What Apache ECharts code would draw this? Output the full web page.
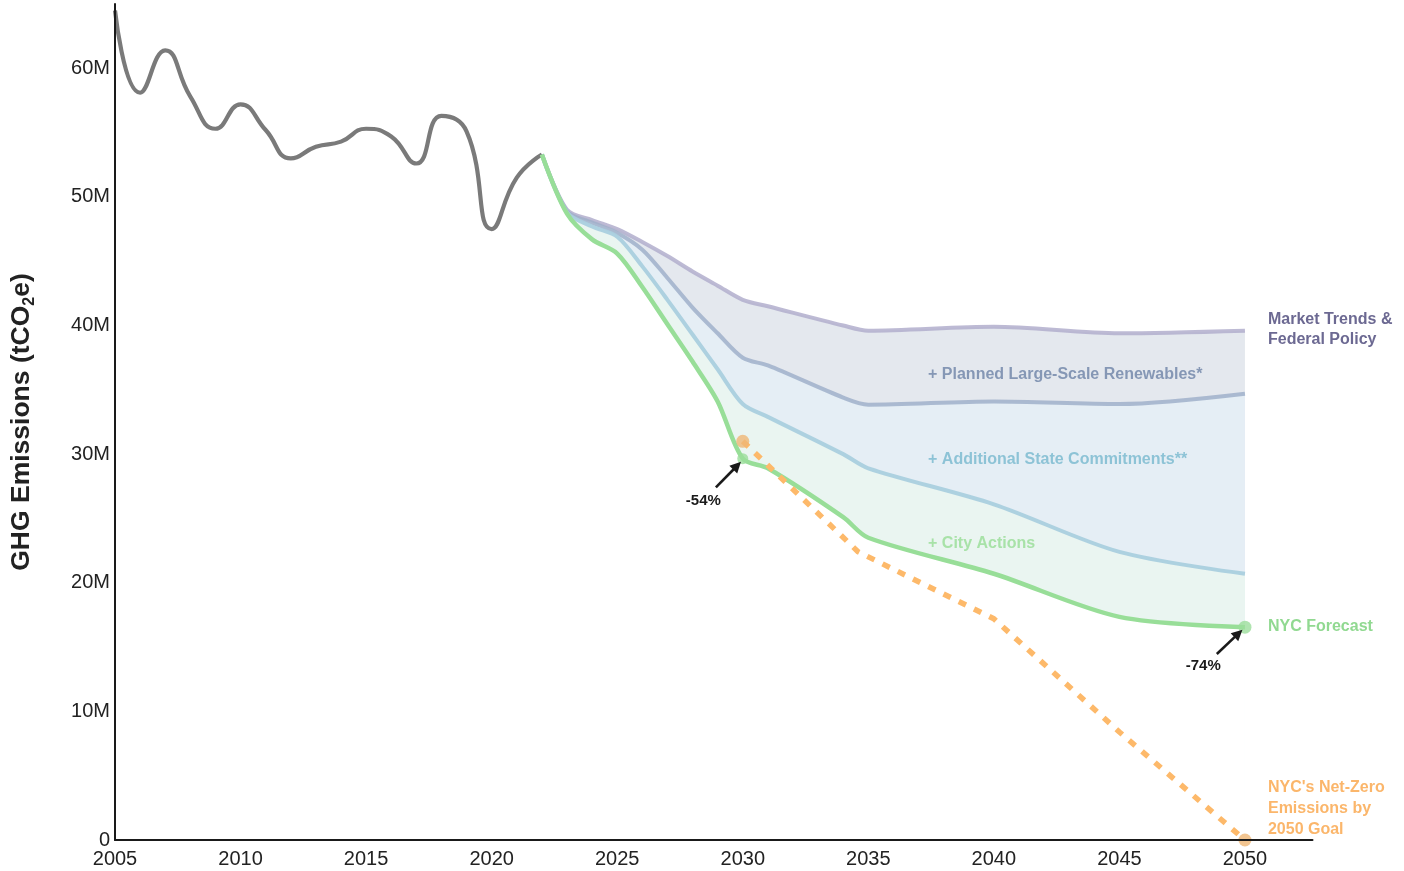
<!DOCTYPE html>
<html>
<head>
<meta charset="utf-8">
<title>NYC GHG Emissions Forecast</title>
<script src="https://cdn.jsdelivr.net/npm/echarts@6/dist/echarts.min.js"></script>
<style>
  html, body { margin: 0; padding: 0; background: #ffffff; }
  #chart { width: 1404px; height: 871px; }
</style>
</head>
<body>
<div id="chart"></div>
<script>
// Historical citywide emissions (million tCO2e)
const histYears  = [2005, 2006, 2007, 2008, 2009, 2010, 2011, 2012, 2013, 2014, 2015, 2016, 2017, 2018, 2019, 2020, 2021, 2022];
const histValues = [64.5, 58.1, 61.4, 57.8, 55.3, 57.2, 55.2, 53.0, 53.9, 54.3, 55.3, 54.7, 52.6, 56.3, 55.1, 47.5, 51.5, 53.3];

// Forecast scenarios (million tCO2e)
const projYears      = [2022, 2023, 2024, 2025, 2026, 2027, 2028, 2029, 2030, 2031, 2034, 2035, 2040, 2045, 2050];
const marketTrends   = [53.3, 49.0, 48.2, 47.5, 46.5, 45.4, 44.2, 43.1, 42.0, 41.5, 40.0, 39.6, 39.9, 39.4, 39.6];
const plusRenewables = [53.3, 48.9, 48.0, 47.2, 45.9, 43.7, 41.4, 39.4, 37.5, 36.9, 34.4, 33.85, 34.1, 33.9, 34.7];
const plusState      = [53.3, 48.8, 47.7, 46.9, 44.6, 42.0, 39.3, 36.6, 33.9, 32.9, 30.0, 28.9, 26.1, 22.4, 20.7];
const nycForecast    = [53.3, 48.7, 46.7, 45.6, 43.0, 40.1, 37.2, 34.1, 29.65, 28.9, 25.1, 23.5, 20.7, 17.35, 16.55];

// Net-zero pathway (million tCO2e)
const goalYears  = [2030, 2034.6, 2040, 2045, 2050];
const goalValues = [31.0, 22.4, 17.2, 8.4, 0];

// Axis ranges and ticks
const xMin = 2005, xMax = 2052.69, xStep = 5;
const yMin = 0, yMax = 65, yStep = 10;

const FONT = "'Liberation Sans', Arial, Helvetica, sans-serif";

const pairs = (xs, ys) => xs.map((x, i) => [x, ys[i]]);
const pick = (xs, ys, wanted) => wanted.map(w => [w, ys[xs.indexOf(w)]]);

const SMOOTH = 0.3;

const chart = echarts.init(document.getElementById('chart'), null, { renderer: 'canvas' });

// Filled layers: each scenario fills down to the axis, painted top scenario first,
// so every band shows only between two neighbouring lines.
function band(name, values, color, lead) {
  const data = pairs(projYears, values);
  // the white cover starts a hair earlier so the coloured layers' left edges stay hidden
  if (lead) data.unshift([projYears[0] - lead, values[0]]);
  return {
    name: name, type: 'line', smooth: SMOOTH, symbol: 'none', silent: true,
    data: data,
    lineStyle: { width: 0, opacity: 0 },
    areaStyle: { color: color, opacity: 1 },
    z: 1
  };
}
function scenarioLine(name, values, color, width, z) {
  return {
    name: name, type: 'line', smooth: SMOOTH, symbol: 'none',
    data: pairs(projYears, values),
    lineStyle: { color: color, width: width }, z: z
  };
}

chart.setOption({
  animation: false,
  backgroundColor: '#ffffff',
  textStyle: { fontFamily: FONT },
  grid: { left: 115, right: 91.5, top: 4, bottom: 31, containLabel: false },
  xAxis: {
    type: 'value', min: xMin, max: xMax, interval: xStep, z: 20,
    axisLine: { show: true, lineStyle: { color: '#1a1a1a', width: 2 } },
    axisTick: { show: false },
    splitLine: { show: false },
    axisLabel: {
      showMaxLabel: false, margin: 9,
      color: '#222222', fontSize: 20, fontFamily: FONT,
      formatter: v => (v % 5 === 0 ? String(v) : '')
    }
  },
  yAxis: {
    type: 'value', min: yMin, max: yMax, interval: yStep, z: 20,
    axisLine: { show: true, lineStyle: { color: '#1a1a1a', width: 2 } },
    axisTick: { show: false },
    splitLine: { show: false },
    axisLabel: {
      showMaxLabel: false, margin: 5,
      color: '#222222', fontSize: 20, fontFamily: FONT,
      formatter: v => (v === 0 ? '0' : (v % 10 === 0 ? v + 'M' : ''))
    },
    name: '{a|GHG Emissions (tCO}{s|2}{a|e)}',
    nameLocation: 'middle',
    nameRotate: 90,
    nameGap: 77,
    nameTextStyle: {
      rich: {
        a: { fontSize: 26.5, fontWeight: 'bold', color: '#222222', fontFamily: FONT, lineHeight: 32, verticalAlign: 'middle' },
        s: { fontSize: 16, fontWeight: 'bold', color: '#222222', fontFamily: FONT, lineHeight: 16, verticalAlign: 'bottom' }
      }
    }
  },
  series: [
    // historical emissions
    {
      name: 'History', type: 'line', smooth: 0.5, symbol: 'none',
      data: pairs(histYears, histValues),
      lineStyle: { color: '#7a7a7a', width: 4.2 }, z: 5
    },
    // bands
    band('Renewables band', marketTrends, '#E4E8EE'),
    band('State band', plusRenewables, '#E5EEF5'),
    band('City Actions band', plusState, '#EAF5F1'),
    band('Below forecast', nycForecast, '#ffffff', 0.1),
    // scenario lines
    scenarioLine('Market Trends & Federal Policy', marketTrends, 'rgba(178,174,204,0.85)', 4, 3),
    scenarioLine('+ Planned Large-Scale Renewables', plusRenewables, 'rgba(160,176,202,0.85)', 4, 3),
    scenarioLine('+ Additional State Commitments', plusState, 'rgba(170,207,222,0.95)', 4, 3),
    scenarioLine('NYC Forecast', nycForecast, '#98DE98', 4.5, 6),
    // net-zero pathway
    {
      name: 'Net-Zero Goal', type: 'line', smooth: false, symbol: 'none',
      data: pairs(goalYears, goalValues),
      lineStyle: { color: '#FDB96A', width: 5.5, type: [8, 9], cap: 'butt' }, z: 8
    },
    {
      name: 'NYC Forecast points', type: 'scatter', symbol: 'circle',
      symbolSize: (v, p) => (p.dataIndex === 0 ? 11 : 13),
      data: pick(projYears, nycForecast, [2030, 2050]),
      itemStyle: { color: '#9BDD9B' }, z: 7
    },
    {
      name: 'Goal points', type: 'scatter', symbol: 'circle', symbolSize: 13,
      data: pick(goalYears, goalValues, [2030, 2050]),
      itemStyle: { color: '#EFB675' }, z: 9
    }
  ]
});

// annotations placed in data coordinates
const px = (x, y) => chart.convertToPixel({ gridIndex: 0 }, [x, y]);
const last = a => a[a.length - 1];
const gfx = [];

function label(text, pos, color, opts) {
  opts = opts || {};
  gfx.push({
    type: 'text', z: 100, x: pos[0], y: pos[1],
    style: {
      text: text, fill: color,
      font: 'bold ' + (opts.size || 16) + 'px ' + FONT,
      lineHeight: opts.lh || 20,
      textAlign: opts.align || 'left', textVerticalAlign: 'middle'
    }
  });
}

function arrow(from, to) {
  const a = px(from[0], from[1]), b = px(to[0], to[1]);
  const dx = b[0] - a[0], dy = b[1] - a[1];
  const len = Math.hypot(dx, dy), ux = dx / len, uy = dy / len;
  const L = 11, W = 5.5;
  const bx = b[0] - ux * L, by = b[1] - uy * L;
  gfx.push({ type: 'line', z: 100,
    shape: { x1: a[0], y1: a[1], x2: bx + ux * 2, y2: by + uy * 2 },
    style: { stroke: '#1a1a1a', lineWidth: 2.6 } });
  gfx.push({ type: 'polygon', z: 100,
    shape: { points: [[b[0], b[1]], [bx - uy * W, by + ux * W], [bx + uy * W, by - ux * W]] },
    style: { fill: '#1a1a1a' } });
}

const endX = px(2050, 0)[0] + 23;
label('Market Trends &\nFederal Policy', [endX, px(2050, last(marketTrends))[1] - 1], '#6C6992');
label('NYC Forecast', [endX, px(2050, last(nycForecast))[1] - 1], '#91D991');
label("NYC's Net-Zero\nEmissions by\n2050 Goal", [endX, px(2050, last(goalValues))[1] - 31], '#FBB66B', { lh: 21 });

label('+ Planned Large-Scale Renewables*', px(2037.38, 36.2), '#8597B5');
label('+ Additional State Commitments**', px(2037.38, 29.6), '#8DC3D6');
label('+ City Actions', px(2037.38, 23.08), '#A8E2A8');

arrow([2028.93, 27.42], [2029.93, 29.4]);
label('-54%', px(2028.43, 26.36), '#1a1a1a', { size: 15, align: 'center' });
arrow([2048.88, 14.46], [2049.9, 16.35]);
label('-74%', px(2048.34, 13.52), '#1a1a1a', { size: 15, align: 'center' });

chart.setOption({ graphic: gfx });
</script>
</body>
</html>
